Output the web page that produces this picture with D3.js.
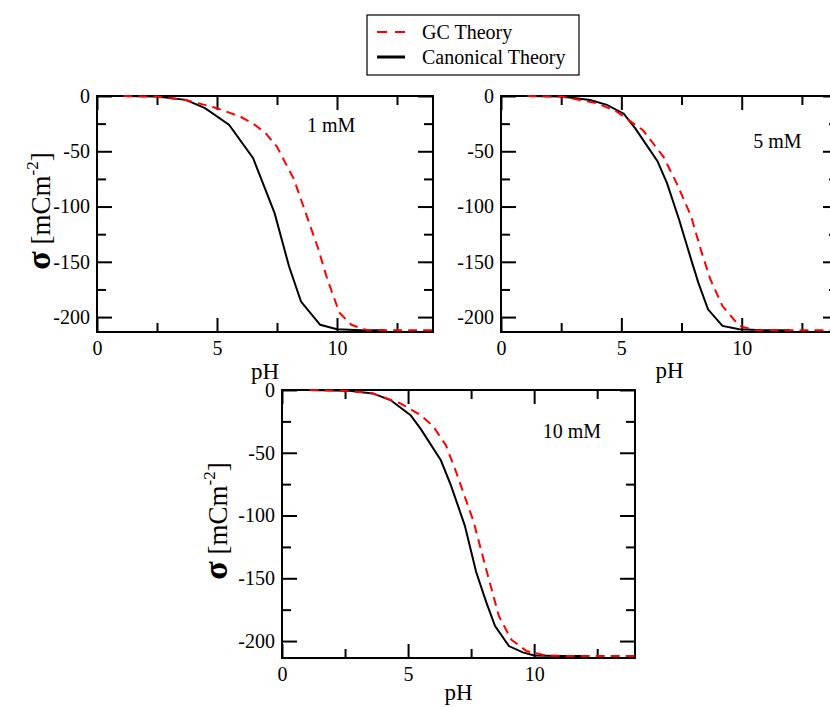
<!DOCTYPE html>
<html>
<head>
<meta charset="utf-8">
<script src="https://cdn.jsdelivr.net/npm/d3@7"></script>
<style>
  body { margin: 0; background: #fff; }
  text { font-family: "Liberation Serif", "Times New Roman", serif; fill: #000; }
</style>
</head>
<body>
<div id="vis"></div>
<script>
var width = 830;
var height = 707;

// series names for the legend
var seriesNames = ["GC Theory", "Canonical Theory"];

// x / y ticks
var xMajor = [0, 5, 10];
var xMinor = [2.5, 7.5, 12.5];
var yMajor = [0, -50, -100, -150, -200];
var yMinor = [-25, -75, -125, -175];

// 1 mM
var pH1Canon = [1.0, 2.5, 3.7, 4.5, 5.5, 6.5, 7.4, 8.0, 8.5, 9.3, 10.0, 11.0, 12.0];
var sigma1Canon = [0, -0.5, -3.5, -11, -26, -56, -106, -154, -186, -207, -211, -212, -212];
var pH1GC = [1.1, 2.5, 3.7, 5.0, 6.0, 6.5, 7.0, 7.5, 8.2, 8.7, 9.2, 9.6, 10.1, 10.6, 11.2, 12, 13, 14];
var sigma1GC = [0, -0.5, -3.6, -11, -19, -25, -33, -46, -75, -106, -137, -166, -196, -207, -211.5, -212, -212, -212];

// 5 mM
var pH2Canon = [1.0, 2.5, 3.7, 4.4, 5.1, 5.6, 6.5, 6.9, 7.4, 7.9, 8.2, 8.6, 9.2, 9.9, 11, 12];
var sigma2Canon = [0, -0.5, -3.6, -8, -16, -30, -59, -79, -112, -148, -169, -193, -208, -211, -212, -212];
var pH2GC = [1.1, 2.5, 4.0, 4.8, 5.9, 6.75, 7.3, 7.9, 8.3, 8.7, 9.2, 9.9, 10.6, 12, 14];
var sigma2GC = [0, -0.5, -6.6, -14, -31, -55, -79, -109, -139, -166, -190, -208, -212, -212, -212];

// 10 mM
var pH3Canon = [1.0, 2.6, 3.6, 4.3, 5.1, 5.5, 6.3, 6.7, 7.25, 7.7, 8.1, 8.45, 9.0, 9.55, 10.0, 11, 11.9];
var sigma3Canon = [0, -0.5, -2.7, -8, -20, -31, -56, -76, -108, -145, -169, -188, -204, -209, -211.5, -212, -212];
var pH3GC = [1.1, 2.6, 3.6, 4.7, 5.5, 6.0, 6.5, 6.9, 7.6, 8.1, 8.6, 9.1, 9.7, 10.5, 12, 14];
var sigma3GC = [0, -0.5, -2.7, -10.7, -20, -29, -44, -65, -105, -143, -180, -199, -208, -211.7, -212, -212];

var panelLabels = ["1 mM", "5 mM", "10 mM"];

var serif = "'Liberation Serif', 'Times New Roman', serif";

function zip(xs, ys) {
    return xs.map(function (x, i) { return [x, ys[i]]; });
}

function init() {
    var svg = d3.select('#vis').append('svg')
        .attr("width", width)
        .attr("height", height);

    drawPanel(svg, {x: 97, y: 96, w: 336, h: 236, pad: 47, title: 47},
        zip(pH1Canon, sigma1Canon), zip(pH1GC, sigma1GC), panelLabels[0], [8.75, -32.5], true);
    drawPanel(svg, {x: 501, y: 96, w: 337, h: 236, pad: 46, title: 0},
        zip(pH2Canon, sigma2Canon), zip(pH2GC, sigma2GC), panelLabels[1], [10.48, -47], false);
    drawPanel(svg, {x: 282, y: 390, w: 353, h: 268, pad: 42, title: 55},
        zip(pH3Canon, sigma3Canon), zip(pH3GC, sigma3GC), panelLabels[2], [10.34, -38.4], true);

    legend(svg);
}

function drawPanel(svg, box, canon, gc, label, labelAt, yTitle) {
    var x = d3.scaleLinear().domain([0, 14]).range([0, box.w]);
    var y = d3.scaleLinear().domain([-213.5, 0]).range([box.h, 0]);

    var g = svg.append("g")
        .attr("transform", "translate(" + box.x + "," + box.y + ")");

    var noDomain = function (a) { a.select(".domain").remove(); a.attr("font-family", serif); };
    var fmt = function (d) { return String(d); };

    // bottom / left with labels
    g.append("g").attr("transform", "translate(0," + box.h + ")")
        .call(d3.axisBottom(x).tickValues(xMajor).tickFormat(fmt).tickSizeInner(-14).tickSizeOuter(0).tickPadding(9))
        .call(noDomain);
    g.append("g").attr("transform", "translate(0," + box.h + ")")
        .call(d3.axisBottom(x).tickValues(xMinor).tickFormat("").tickSizeInner(-9).tickSizeOuter(0))
        .call(noDomain);
    g.append("g")
        .call(d3.axisLeft(y).tickValues(yMajor).tickFormat(fmt).tickSizeInner(-15).tickSizeOuter(0).tickPadding(7))
        .call(noDomain);
    g.append("g")
        .call(d3.axisLeft(y).tickValues(yMinor).tickFormat("").tickSizeInner(-9).tickSizeOuter(0))
        .call(noDomain);

    // top / right, ticks only
    g.append("g")
        .call(d3.axisTop(x).tickValues(xMajor).tickFormat("").tickSizeInner(-14).tickSizeOuter(0))
        .call(noDomain);
    g.append("g")
        .call(d3.axisTop(x).tickValues(xMinor).tickFormat("").tickSizeInner(-9).tickSizeOuter(0))
        .call(noDomain);
    g.append("g").attr("transform", "translate(" + box.w + ",0)")
        .call(d3.axisRight(y).tickValues(yMajor).tickFormat("").tickSizeInner(-15).tickSizeOuter(0))
        .call(noDomain);
    g.append("g").attr("transform", "translate(" + box.w + ",0)")
        .call(d3.axisRight(y).tickValues(yMinor).tickFormat("").tickSizeInner(-9).tickSizeOuter(0))
        .call(noDomain);

    g.selectAll(".tick line").attr("stroke", "#000").attr("stroke-width", 2);
    g.selectAll(".tick text").attr("font-size", 20).attr("font-family", serif);

    g.append("rect")
        .attr("width", box.w)
        .attr("height", box.h)
        .attr("fill", "none")
        .attr("stroke", "#000")
        .attr("stroke-width", 2);

    var line = d3.line()
        .x(function (d) { return x(d[0]); })
        .y(function (d) { return y(d[1]); });

    g.append("path").datum(canon)
        .attr("d", line)
        .attr("fill", "none")
        .attr("stroke", "#000")
        .attr("stroke-width", 2);

    g.append("path").datum(gc)
        .attr("d", line)
        .attr("fill", "none")
        .attr("stroke", "#ff0000")
        .attr("stroke-width", 2)
        .attr("stroke-dasharray", "9,6");

    g.append("text")
        .attr("x", x(labelAt[0]))
        .attr("y", y(labelAt[1]))
        .attr("font-size", 20)
        .text(label);

    g.append("text")
        .attr("x", box.w / 2)
        .attr("y", box.h + box.pad)
        .attr("text-anchor", "middle")
        .attr("font-size", 23)
        .text("pH");

    if (yTitle) {
        var t = g.append("text")
            .attr("transform", "translate(" + (-box.title) + "," + (box.h / 2 - 3) + ") rotate(-90)")
            .attr("text-anchor", "middle")
            .attr("font-size", 27);
        t.append("tspan").attr("font-size", 34).attr("font-weight", "bold").text("σ");
        t.append("tspan").text(" [mCm");
        t.append("tspan").attr("font-size", 17).attr("dy", -12).text("-2");
        t.append("tspan").attr("dy", 12).text("]");
    }
}

function legend(svg) {
    var lg = svg.append("g").attr("transform", "translate(367,15)");
    lg.append("rect")
        .attr("width", 212)
        .attr("height", 60)
        .attr("fill", "#fff")
        .attr("stroke", "#000")
        .attr("stroke-width", 1.2);

    var items = lg.selectAll("g.item")
        .data(seriesNames)
        .enter().append("g")
        .attr("transform", function (d, i) { return "translate(0," + (17 + i * 25) + ")"; });

    items.append("line")
        .attr("x1", 10).attr("x2", 38)
        .attr("stroke", function (d, i) { return i === 0 ? "#ff0000" : "#000"; })
        .attr("stroke-width", function (d, i) { return i === 0 ? 2 : 3; })
        .attr("stroke-dasharray", function (d, i) { return i === 0 ? "10,8" : null; });

    items.append("text")
        .attr("x", 55)
        .attr("y", 6.5)
        .attr("font-size", 20)
        .text(function (d) { return d; });
}

init();
</script>
</body>
</html>
